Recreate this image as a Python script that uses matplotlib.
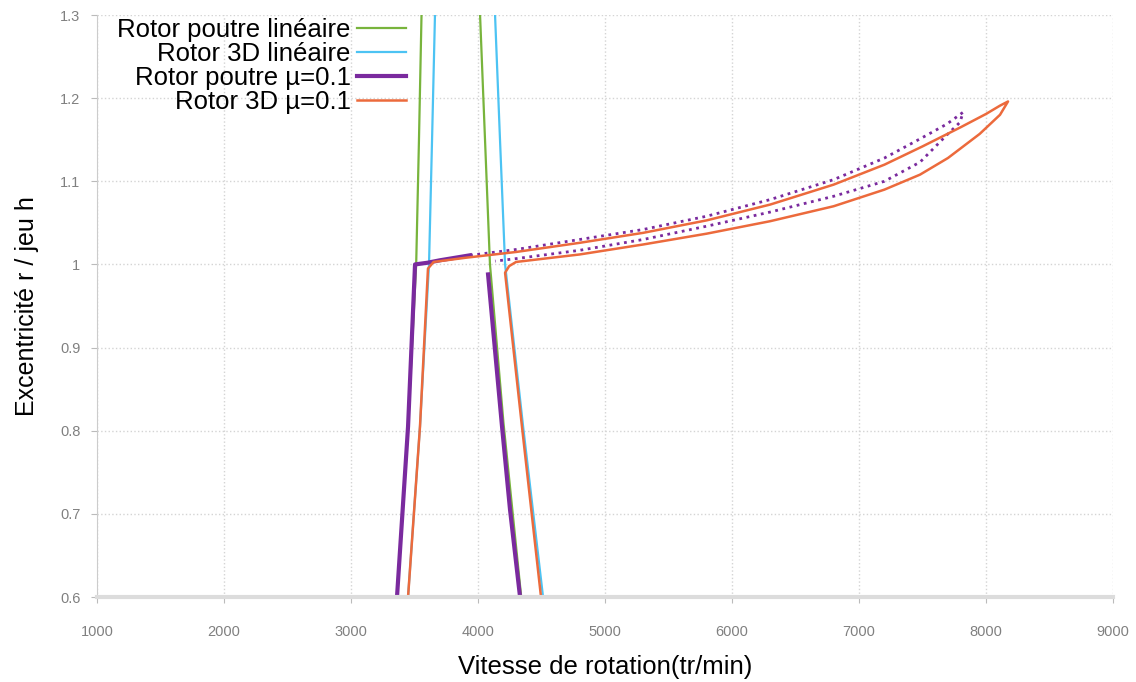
import numpy as np
import matplotlib.pyplot as plt

plt.rcParams['font.family'] = ['Liberation Sans', 'DejaVu Sans']

# Rotor poutre lineaire (deux branches de la resonance)
N_poutre_lin_g = [3362, 3449, 3513, 3535, 3555]
E_poutre_lin_g = [0.6, 0.805, 1.0, 1.15, 1.3]
N_poutre_lin_d = [4016, 4055, 4094, 4200, 4340]
E_poutre_lin_d = [1.3, 1.15, 1.0, 0.81, 0.6]

# Rotor 3D lineaire
N_3d_lin_g = [3449, 3543, 3614, 3638, 3661]
E_3d_lin_g = [0.6, 0.805, 1.0, 1.15, 1.3]
N_3d_lin_d = [4134, 4173, 4213, 4355, 4512]
E_3d_lin_d = [1.3, 1.15, 1.0, 0.805, 0.6]

# Rotor poutre mu=0.1 : branches stables (trait plein) + boucle (pointilles)
N_poutre_mu_g = [3362, 3449, 3504, 3600, 3700, 3937]
E_poutre_mu_g = [0.6, 0.805, 1.0, 1.002, 1.005, 1.011]
N_poutre_mu_boucle = [3937, 4300, 4800, 5300, 5800, 6300, 6800, 7200, 7480, 7693, 7819,
                      7795, 7693, 7480, 7200, 6800, 6300, 5800, 5300, 4800, 4300, 4134]
E_poutre_mu_boucle = [1.011, 1.018, 1.030, 1.042, 1.058, 1.078, 1.102, 1.128, 1.151, 1.169, 1.183,
                      1.171, 1.156, 1.123, 1.100, 1.082, 1.063, 1.046, 1.030, 1.017, 1.007, 1.004]
N_poutre_mu_d = [4079, 4189, 4252, 4331]
E_poutre_mu_d = [0.988, 0.805, 0.705, 0.6]

# Rotor 3D mu=0.1
N_3d_mu = [3449, 3543, 3606, 3650, 3900, 4300, 4800, 5300, 5800, 6300, 6800, 7200, 7500, 7800, 8000, 8110, 8173,
           8110, 7950, 7700, 7480, 7200, 6800, 6300, 5800, 5300, 4800, 4300, 4245, 4213, 4346, 4496]
E_3d_mu = [0.6, 0.805, 0.995, 1.003, 1.008, 1.015, 1.026, 1.038, 1.053, 1.072, 1.096, 1.120, 1.142, 1.165, 1.181, 1.191, 1.196,
           1.180, 1.157, 1.128, 1.108, 1.090, 1.070, 1.052, 1.037, 1.024, 1.012, 1.003, 0.998, 0.990, 0.805, 0.6]

xticks = np.arange(1000, 9001, 1000)
yticks = [0.6, 0.7, 0.8, 0.9, 1.0, 1.1, 1.2, 1.3]
ylabels = ['0.6', '0.7', '0.8', '0.9', '1', '1.1', '1.2', '1.3']

vert = '#78b43c'
bleu = '#4cc3f3'
violet = '#7a2a9e'
orange = '#ec6a3c'

fig = plt.figure(figsize=(11.36, 6.82), dpi=100)
ax = fig.add_axes([0.0854, 0.1246, 0.8944, 0.8534])

ax.plot(N_poutre_lin_g, E_poutre_lin_g, color=vert, lw=1.6, label='Rotor poutre linéaire')
ax.plot(N_poutre_lin_d, E_poutre_lin_d, color=vert, lw=1.6)
ax.plot(N_3d_lin_g, E_3d_lin_g, color=bleu, lw=1.6, label='Rotor 3D linéaire')
ax.plot(N_3d_lin_d, E_3d_lin_d, color=bleu, lw=1.6)
ax.plot(N_poutre_mu_g, E_poutre_mu_g, color=violet, lw=3, label='Rotor poutre µ=0.1')
ax.plot(N_poutre_mu_boucle, E_poutre_mu_boucle, color=violet, lw=2, ls=':')
ax.plot(N_poutre_mu_d, E_poutre_mu_d, color=violet, lw=3)
ax.plot(N_3d_mu, E_3d_mu, color=orange, lw=1.8, label='Rotor 3D µ=0.1')

ax.set_xlim(1000, 9000)
ax.set_ylim(0.6, 1.3)
ax.set_xticks(xticks)
ax.set_yticks(yticks)
ax.set_yticklabels(ylabels)
ax.grid(True, ls=':', color='#d4d4d4', lw=1)
ax.set_axisbelow(True)

for s in ['top', 'right']:
    ax.spines[s].set_visible(False)
ax.spines['bottom'].set_color('#dcdcdc')
ax.spines['bottom'].set_linewidth(3)
ax.spines['left'].set_color('#cccccc')
ax.tick_params(axis='both', colors='#bbbbbb', labelcolor='#808080', labelsize=10.5, length=4)
ax.tick_params(axis='x', pad=16)
ax.tick_params(axis='y', pad=8)

ax.set_xlabel('Vitesse de rotation(tr/min)', fontsize=18.5, labelpad=12)
ax.set_ylabel('Excentricité r / jeu h', fontsize=18, labelpad=15)

ax.legend(loc='upper right', bbox_to_anchor=(406 / 1136, 1 - 18 / 682), bbox_transform=fig.transFigure,
          frameon=False, markerfirst=False, fontsize=18.5, handlelength=1.9, handletextpad=0.25,
          labelspacing=0.0, borderpad=0, borderaxespad=0)

fig.savefig('out.png', dpi=100)
